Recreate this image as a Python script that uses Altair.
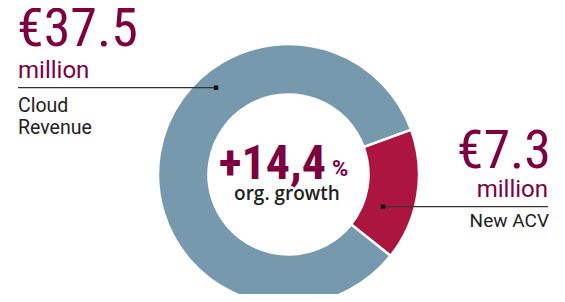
import altair as alt
import pandas as pd
import math

# Data
categories = ["New ACV", "Cloud Revenue"]
values = [7.3, 37.5]
slice_order = [0, 1]
slice_colors = ["#ab1540", "#7699ae"]

big_labels = ["€37.5", "€7.3"]
unit_labels = ["million", "million"]
center_value = "+14,4"
center_unit = "%"
center_caption = "org. growth"

W, H = 549, 286
CX, CY = 280.5, 166.5
start = 1.22

pie_df = pd.DataFrame({"category": categories, "value": values, "order": slice_order})

donut = alt.Chart(pie_df).mark_arc(
    outerRadius=130.5, innerRadius=80, stroke="white", strokeWidth=2.5
).encode(
    theta=alt.Theta("value:Q", stack=True, scale=alt.Scale(range=[start, start + 2 * math.pi])),
    order=alt.Order("order:Q"),
    color=alt.Color("category:N", scale=alt.Scale(domain=categories, range=slice_colors), legend=None),
    x=alt.value(CX),
    y=alt.value(CY),
)

NARROW = "Roboto Condensed, Liberation Sans Narrow, Roboto"
PURPLE = "#7d0040"
DARK = "#222222"

def txt(t, x, y, size, color, align="left", weight="normal", font="Roboto"):
    d = pd.DataFrame({"t": [t]})
    return alt.Chart(d).mark_text(
        align=align, baseline="alphabetic", fontSize=size, color=color,
        fontWeight=weight, font=font
    ).encode(text="t:N", x=alt.value(x), y=alt.value(y))

def rule(x1, x2, y):
    d = pd.DataFrame({"a": [0]})
    return alt.Chart(d).mark_rule(color="#333333", strokeWidth=1.2).encode(
        x=alt.value(x1), x2=alt.value(x2), y=alt.value(y))

def dot(x, y):
    d = pd.DataFrame({"a": [0]})
    return alt.Chart(d).mark_square(size=20, color="#111111", opacity=1).encode(
        x=alt.value(x), y=alt.value(y))

layers = [
    donut,
    rule(10, 208, 79.7), dot(208, 79.7),
    rule(375, 540, 198.7), dot(375, 198.7),
    txt(big_labels[0], 9, 38, 54, PURPLE, font=NARROW),
    txt(unit_labels[0], 10, 70, 24, PURPLE),
    txt("Cloud", 10, 104, 19.5, DARK),
    txt("Revenue", 10, 126, 19.5, DARK),
    txt(big_labels[1], 543, 160, 54, PURPLE, align="right", font=NARROW),
    txt(unit_labels[1], 540, 189, 24, PURPLE, align="right"),
    txt(categories[0], 541, 219, 19, DARK, align="right"),
    txt(center_value, 318, 171, 48, PURPLE, align="right", weight="bold", font=NARROW),
    txt(center_unit, 324, 168, 22, PURPLE, weight="bold"),
    txt(center_caption, 279, 192, 19, DARK, align="center", weight=600, font="Open Sans"),
]

chart = alt.layer(*layers).properties(
    width=W, height=H, autosize=alt.AutoSizeParams(type="none"), padding=0
).configure_view(stroke=None)

chart.save("out.html", embed_options={"renderer": "svg", "actions": False})
